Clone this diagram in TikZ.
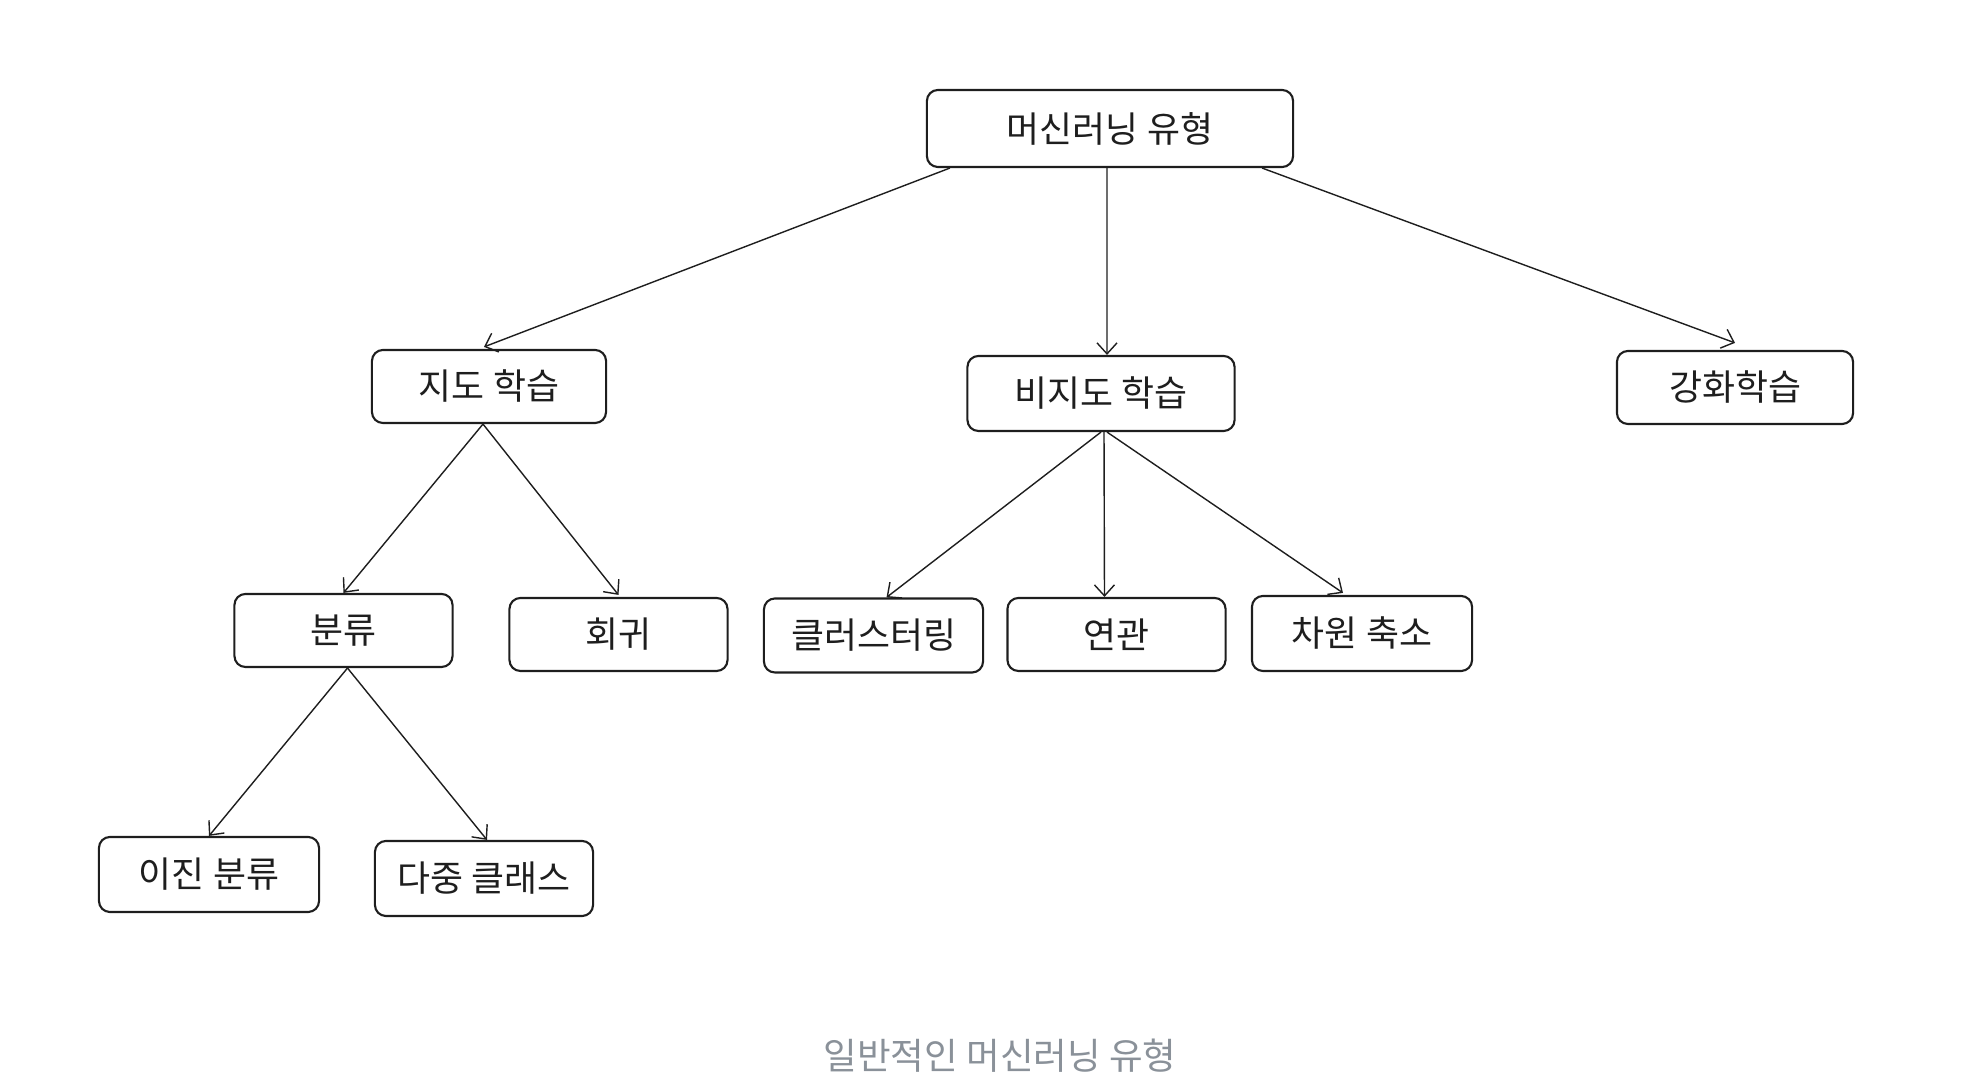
\documentclass[tikz,border=0pt]{standalone}
\usepackage{fontspec}
\newfontfamily\krfont{Noto Sans CJK KR}
\usetikzlibrary{arrows.meta}
\definecolor{ink}{HTML}{1E1E1E}
\definecolor{capgray}{HTML}{8A9199}
\tikzset{
  box/.style={draw=ink, line width=0.6pt, rounded corners=0.11cm, inner sep=0pt,
    text=ink, font=\krfont\fontsize{10.2}{12}\selectfont},
  arr/.style={draw=ink, line width=0.4pt, -{Straight Barb[length=0.11cm,width=0.2cm]}}
}
\begin{document}
\begin{tikzpicture}[x=0.01cm,y=-0.01cm]
    \useasboundingbox (0,0) rectangle (1966,1089);
    % top level
    \node[box, minimum width=3.66cm, minimum height=0.77cm] (root) at (1110,128.5) {머신러닝 유형};
    \node[box, minimum width=2.34cm, minimum height=0.73cm] (sup) at (489,386.5) {지도 학습};
    \node[box, minimum width=2.67cm, minimum height=0.75cm] (unsup) at (1101,393.5) {비지도 학습};
    \node[box, minimum width=2.36cm, minimum height=0.73cm] (rl) at (1735,387.5) {강화학습};
    % second level
    \node[box, minimum width=2.18cm, minimum height=0.73cm] (cls) at (343.5,630.5) {분류};
    \node[box, minimum width=2.18cm, minimum height=0.73cm] (reg) at (618.5,634.5) {회귀};
    \node[box, minimum width=2.19cm, minimum height=0.74cm] (clu) at (873.5,635.5) {클러스터링};
    \node[box, minimum width=2.18cm, minimum height=0.73cm] (assoc) at (1116.5,634.5) {연관};
    \node[box, minimum width=2.20cm, minimum height=0.75cm] (dimred) at (1362,633.5) {차원 축소};
    % third level
    \node[box, minimum width=2.20cm, minimum height=0.75cm] (bin) at (209,874.5) {이진 분류};
    \node[box, minimum width=2.18cm, minimum height=0.75cm] (multi) at (484,878.5) {다중 클래스};
    \node[text=capgray, font=\krfont\fontsize{10.4}{12}\selectfont] (caption) at (1000,1056) {일반적인 머신러닝 유형};

    \draw[arr] ([xshift=0.24cm]root.south west) -- ([xshift=-0.05cm,yshift=0.02cm]sup.north);
    \draw[arr] ([xshift=-0.03cm]root.south) -- ([xshift=0.06cm]unsup.north);
    \draw[arr] ([xshift=-0.32cm]root.south east) -- ([yshift=0.07cm]rl.north);
    \draw[arr] ([xshift=-0.06cm]sup.south) -- (cls.north);
    \draw[arr] ([xshift=-0.06cm]sup.south) -- ([yshift=0.02cm]reg.north);
    \draw[arr] (unsup.south) -- ([xshift=0.13cm]clu.north);
    \draw[arr] ([xshift=0.03cm]unsup.south) -- ([xshift=-0.12cm]assoc.north);
    \draw[arr] ([xshift=0.06cm]unsup.south) -- ([xshift=-0.19cm,yshift=0.02cm]dimred.north);
    \draw[arr] ([xshift=0.04cm]cls.south) -- (bin.north);
    \draw[arr] ([xshift=0.04cm]cls.south) -- ([xshift=0.03cm]multi.north);
\end{tikzpicture}
\end{document}
